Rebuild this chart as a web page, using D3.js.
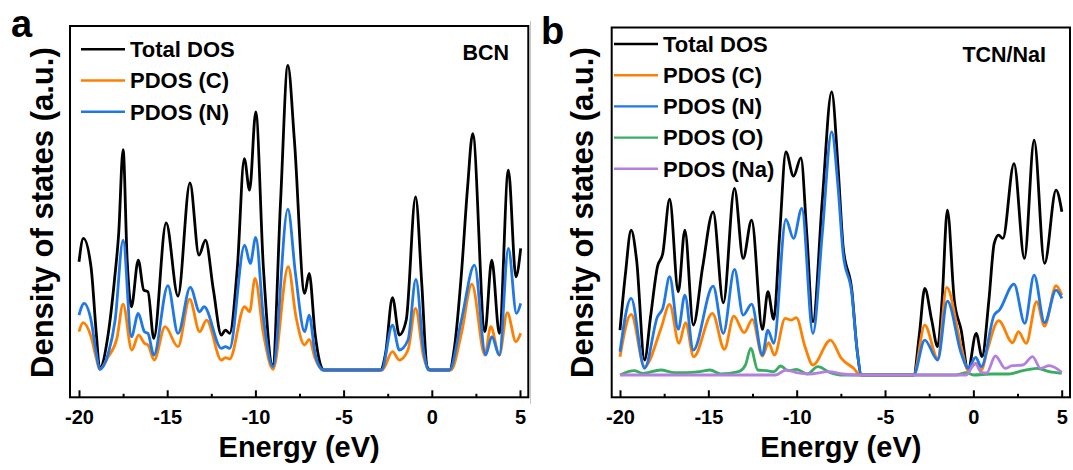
<!DOCTYPE html>
<html>
<head>
<meta charset="utf-8">
<script src="https://cdn.jsdelivr.net/npm/d3@7"></script>
<style>
  body { margin: 0; background: #fff; }
  svg { display: block; }
  text { font-family: "Liberation Sans", Arial, sans-serif; font-weight: bold; fill: #000; }
</style>
</head>
<body>
<svg id="chart" width="1073" height="470"></svg>
<script>
// Energy axis ticks (eV)
const energyTicks = [-20, -15, -10, -5, 0, 5];
const energyMinorTicks = [-17.5, -12.5, -7.5, -2.5, 2.5];

// BCN: density of states, [energy (eV), DOS (a.u.)]
const bcnTotal = [
  [-20.0,0.325],[-19.75,0.395],[-19.32,0.31],[-19.02,0.11],[-18.83,0.005],[-18.34,0.11],
  [-17.99,0.27],[-17.75,0.41],[-17.5,0.662],[-17.27,0.33],[-17.03,0.19],[-16.64,0.33],
  [-16.33,0.24],[-16.09,0.235],[-15.76,0.095],[-15.06,0.442],[-14.39,0.222],[-13.71,0.562],
  [-13.2,0.345],[-12.83,0.39],[-12.38,0.24],[-11.93,0.105],[-11.7,0.12],[-11.46,0.11],
  [-11.02,0.31],[-10.63,0.635],[-10.33,0.54],[-9.98,0.775],[-9.55,0.31],[-9.02,0.015],
  [-8.57,0.51],[-8.16,0.915],[-7.79,0.69],[-7.21,0.23],[-6.95,0.29],[-6.62,0.11],
  [-6.23,0.005],[-6.13,0],[-2.91,0],[-2.62,0.05],[-2.23,0.217],[-1.84,0.105],[-1.45,0.15],
  [-0.92,0.52],[-0.57,0.26],[-0.27,0.01],[-0.08,0],[1.0,0],[1.29,0.07],[1.68,0.29],
  [2.03,0.55],[2.32,0.71],[3.01,0.115],[3.4,0.33],[3.83,0.11],[4.34,0.60],[4.77,0.28],[5.04,0.365]
];
const bcnC = [
  [-20.0,0.115],[-19.77,0.142],[-19.32,0.10],[-19.02,0.035],[-18.83,0.002],[-18.34,0.04],
  [-17.85,0.095],[-17.5,0.198],[-17.01,0.06],[-16.62,0.105],[-16.29,0.08],[-16.09,0.075],
  [-15.74,0.03],[-15.12,0.13],[-14.39,0.07],[-13.73,0.213],[-13.16,0.115],[-12.77,0.15],
  [-11.93,0.03],[-11.7,0.037],[-11.46,0.033],[-10.61,0.19],[-10.33,0.175],[-10.02,0.275],
  [-9.55,0.11],[-9.0,0.002],[-8.14,0.31],[-7.7,0.16],[-7.21,0.075],[-6.95,0.092],
  [-6.62,0.035],[-6.19,0],[-2.81,0],[-2.23,0.055],[-1.84,0.03],[-1.35,0.06],[-0.92,0.185],
  [-0.47,0.04],[-0.14,0],[1.09,0],[1.68,0.11],[2.27,0.258],[3.01,0.045],[3.34,0.13],
  [3.83,0.045],[4.28,0.172],[4.77,0.085],[5.04,0.11]
];
const bcnN = [
  [-20.0,0.165],[-19.71,0.20],[-19.32,0.15],[-19.02,0.05],[-18.83,0.002],[-18.34,0.05],
  [-17.95,0.15],[-17.5,0.39],[-17.03,0.10],[-16.64,0.17],[-16.29,0.115],[-16.09,0.11],
  [-15.76,0.045],[-14.96,0.253],[-14.39,0.11],[-13.69,0.248],[-13.16,0.175],[-12.91,0.19],
  [-11.93,0.065],[-11.7,0.07],[-11.46,0.065],[-10.61,0.375],[-10.29,0.32],[-9.98,0.398],
  [-9.55,0.16],[-9.0,0.01],[-8.16,0.483],[-7.73,0.29],[-7.21,0.115],[-6.95,0.165],
  [-6.62,0.05],[-6.23,0.002],[-6.13,0],[-2.85,0],[-2.23,0.135],[-1.84,0.06],[-1.35,0.09],
  [-0.9,0.272],[-0.47,0.06],[-0.18,0],[1.0,0],[1.68,0.15],[2.42,0.315],[3.05,0.045],
  [3.4,0.10],[3.83,0.045],[4.34,0.365],[4.8,0.17],[5.04,0.2]
];

// TCN/NaI: density of states, [energy (eV), DOS (a.u.)]
const tcnTotal = [
  [-20.0,0.135],[-19.69,0.305],[-19.37,0.435],[-19.06,0.345],[-18.61,0.045],[-18.27,0.175],
  [-17.88,0.325],[-17.58,0.365],[-17.19,0.528],[-16.7,0.25],[-16.33,0.435],[-15.85,0.15],
  [-15.32,0.325],[-14.73,0.49],[-14.15,0.217],[-13.52,0.56],[-13.03,0.35],[-12.55,0.465],
  [-11.94,0.137],[-11.63,0.25],[-11.3,0.167],[-10.96,0.425],[-10.61,0.67],[-10.18,0.597],
  [-9.76,0.652],[-9.43,0.425],[-9.08,0.16],[-8.55,0.525],[-8.02,0.85],[-7.66,0.625],
  [-7.37,0.385],[-6.88,0.255],[-6.58,0.075],[-6.33,0],[-3.38,0],[-3.05,0.125],[-2.75,0.26],
  [-2.36,0.165],[-2.02,0.085],[-1.77,0.225],[-1.47,0.495],[-1.08,0.225],[-0.69,0.135],
  [-0.3,0.015],[0.16,0.125],[0.49,0.055],[0.88,0.225],[1.18,0.395],[1.43,0.42],[1.67,0.41],
  [2.3,0.635],[2.89,0.35],[3.44,0.705],[4.03,0.335],[4.68,0.555],[5.01,0.49]
];
const tcnC = [
  [-20.0,0.055],[-19.37,0.182],[-18.61,0.025],[-17.68,0.14],[-17.19,0.212],[-16.66,0.095],
  [-16.29,0.157],[-15.83,0.055],[-14.77,0.185],[-14.09,0.077],[-13.56,0.177],[-12.97,0.127],
  [-12.51,0.167],[-11.94,0.057],[-11.59,0.097],[-11.26,0.06],[-10.65,0.17],[-10.31,0.165],
  [-10.02,0.172],[-9.53,0.085],[-9.08,0.03],[-8.09,0.105],[-7.47,0.05],[-6.78,0.02],
  [-6.39,0],[-3.38,0],[-2.75,0.15],[-2.02,0.05],[-1.51,0.263],[-0.69,0.085],[-0.3,0.015],
  [0.16,0.035],[0.45,0.015],[0.79,0.075],[1.43,0.163],[2.22,0.097],[2.55,0.13],[2.99,0.095],
  [3.58,0.22],[4.03,0.147],[4.68,0.268],[5.01,0.24]
];
const tcnN = [
  [-20.0,0.07],[-19.37,0.23],[-18.61,0.02],[-17.88,0.175],[-17.58,0.2],[-17.19,0.295],
  [-16.7,0.137],[-16.33,0.24],[-15.85,0.075],[-14.73,0.267],[-14.15,0.125],[-13.52,0.317],
  [-13.03,0.18],[-12.55,0.213],[-11.94,0.06],[-11.63,0.135],[-11.3,0.095],[-10.61,0.467],
  [-10.18,0.41],[-9.71,0.5],[-9.08,0.125],[-8.55,0.425],[-8.02,0.73],[-7.66,0.565],
  [-7.37,0.365],[-6.88,0.245],[-6.58,0.075],[-6.33,0],[-3.38,0],[-2.75,0.105],[-2.02,0.045],
  [-1.47,0.222],[-0.69,0.065],[-0.3,0.02],[0.13,0.053],[0.45,0.025],[1.18,0.18],[1.47,0.195],
  [2.3,0.273],[2.91,0.155],[3.44,0.3],[4.03,0.157],[4.68,0.255],[5.01,0.23]
];
const tcnO = [
  [-20.0,0.0],[-19.2,0.013],[-18.7,0.005],[-17.7,0.015],[-16.9,0.007],[-16.3,0.007],
  [-15.5,0.01],[-14.9,0.015],[-14.3,0.003],[-13.3,0.01],[-12.9,0.03],[-12.6,0.08],
  [-12.2,0.015],[-11.7,0.013],[-11.3,0.01],[-10.9,0.027],[-10.5,0.013],[-10.0,0.017],
  [-9.4,0.003],[-8.8,0.025],[-8.1,0.007],[-7.5,0.0],[-1.0,0.0],[-0.4,0.007],[0.0,0.0],
  [1.0,0.003],[2.0,0.003],[2.8,0.013],[3.6,0.02],[4.3,0.01],[5.0,0.005]
];
const tcnNa = [
  [-20.0,0],[-11.2,0],[-10.6,0.015],[-10.0,0.007],[-9.3,0.003],[-8.2,0.01],[-7.4,0.003],
  [-6.5,0],[-0.4,0],[0.1,0.035],[0.45,0.008],[0.75,0.006],[1.25,0.057],[1.8,0.02],
  [2.2,0.028],[2.8,0.03],[3.35,0.055],[3.8,0.02],[4.3,0.028],[5.0,0.008]
];

const seriesColors = {
  total: "#000000",
  C: "#ff8000",
  N: "#1f78e6",
  O: "#38ad62",
  Na: "#b57fe0"
};

const panels = [
  {
    letter: "a", letterX: 11, letterY: 36.5,
    label: "BCN", labelX: 509, labelY: 60,
    frame: { left: 70, top: 26, right: 528.3, bottom: 397.3 },
    xRange: [79, 520], base: 370,
    titleX: 53,
    legendX: 81, legendY: 49.3,
    series: [
      { name: "Total DOS", data: bcnTotal, color: seriesColors.total },
      { name: "PDOS (C)", data: bcnC, color: seriesColors.C },
      { name: "PDOS (N)", data: bcnN, color: seriesColors.N }
    ]
  },
  {
    letter: "b", letterX: 541, letterY: 44,
    label: "TCN/NaI", labelX: 1046, labelY: 61.5,
    frame: { left: 611.7, top: 27.5, right: 1070, bottom: 397.3 },
    xRange: [620, 1061.7], base: 375,
    titleX: 593,
    legendX: 614, legendY: 44,
    series: [
      { name: "Total DOS", data: tcnTotal, color: seriesColors.total },
      { name: "PDOS (C)", data: tcnC, color: seriesColors.C },
      { name: "PDOS (N)", data: tcnN, color: seriesColors.N },
      { name: "PDOS (O)", data: tcnO, color: seriesColors.O },
      { name: "PDOS (Na)", data: tcnNa, color: seriesColors.Na }
    ]
  }
];

const svg = d3.select("#chart");
svg.append("rect").attr("width", 1073).attr("height", 470).attr("fill", "#fff");

// Thin divider between the two panels
svg.append("line")
  .attr("x1", 530.5).attr("x2", 530.5).attr("y1", 21).attr("y2", 404)
  .attr("stroke", "#c8c8c8").attr("stroke-width", 1);

panels.forEach((p, i) => {
  const f = p.frame;
  const x = d3.scaleLinear().domain([-20, 5]).range(p.xRange);
  const y = d3.scaleLinear().domain([0, 1]).range([p.base, p.base - 333]);
  const g = svg.append("g");

  const clipId = "clip-" + i;
  g.append("clipPath").attr("id", clipId)
    .append("rect")
    .attr("x", f.left).attr("y", f.top)
    .attr("width", f.right - f.left).attr("height", f.bottom - f.top);

  const line = d3.line()
    .x(d => x(d[0]))
    .y(d => y(d[1]))
    .curve(d3.curveMonotoneX);

  const plot = g.append("g").attr("clip-path", `url(#${clipId})`);
  p.series.forEach(s => {
    plot.append("path")
      .attr("d", line(s.data))
      .attr("fill", "none")
      .attr("stroke", s.color)
      .attr("stroke-width", 2.8)
      .attr("stroke-linejoin", "round");
  });

  // Frame
  g.append("rect")
    .attr("x", f.left).attr("y", f.top)
    .attr("width", f.right - f.left).attr("height", f.bottom - f.top)
    .attr("fill", "none").attr("stroke", "#000").attr("stroke-width", 2);

  // Bottom axis with inward ticks
  const major = d3.axisBottom(x)
    .tickValues(energyTicks)
    .tickSizeInner(-7).tickSizeOuter(0)
    .tickFormat(d => String(d));
  const axG = g.append("g").attr("transform", `translate(0,${f.bottom})`).call(major);
  axG.select(".domain").remove();
  axG.selectAll(".tick line").attr("stroke", "#000").attr("stroke-width", 2);
  axG.selectAll(".tick text")
    .attr("y", 27).attr("dy", null)
    .style("font-size", "20px")
    .style("font-family", '"Liberation Sans", Arial, sans-serif')
    .style("font-weight", "bold")
    .attr("fill", "#000");

  const minor = d3.axisBottom(x)
    .tickValues(energyMinorTicks)
    .tickSizeInner(-3.5).tickSizeOuter(0)
    .tickFormat("");
  const mG = g.append("g").attr("transform", `translate(0,${f.bottom})`).call(minor);
  mG.select(".domain").remove();
  mG.selectAll(".tick line").attr("stroke", "#000").attr("stroke-width", 2);

  // Axis titles
  g.append("text")
    .attr("x", (f.left + f.right) / 2).attr("y", 457)
    .attr("text-anchor", "middle")
    .style("font-size", "29px")
    .text("Energy (eV)");
  g.append("text")
    .attr("transform", `translate(${p.titleX},378) rotate(-90)`)
    .attr("text-anchor", "start")
    .style("font-size", "31px")
    .text("Density of states (a.u.)");

  // Panel letter and system label
  g.append("text").attr("x", p.letterX).attr("y", p.letterY)
    .style("font-size", "38px").text(p.letter);
  g.append("text").attr("x", p.labelX).attr("y", p.labelY)
    .attr("text-anchor", "end").style("font-size", "21.5px").text(p.label);

  // Legend
  const leg = g.append("g");
  p.series.forEach((s, k) => {
    const ly = p.legendY + k * 31.2;
    leg.append("line")
      .attr("x1", p.legendX).attr("x2", p.legendX + 44)
      .attr("y1", ly).attr("y2", ly)
      .attr("stroke", s.color).attr("stroke-width", 2.4);
    leg.append("text")
      .attr("x", p.legendX + 49).attr("y", ly + 7.8)
      .style("font-size", "22px")
      .text(s.name);
  });
});
</script>
</body>
</html>
